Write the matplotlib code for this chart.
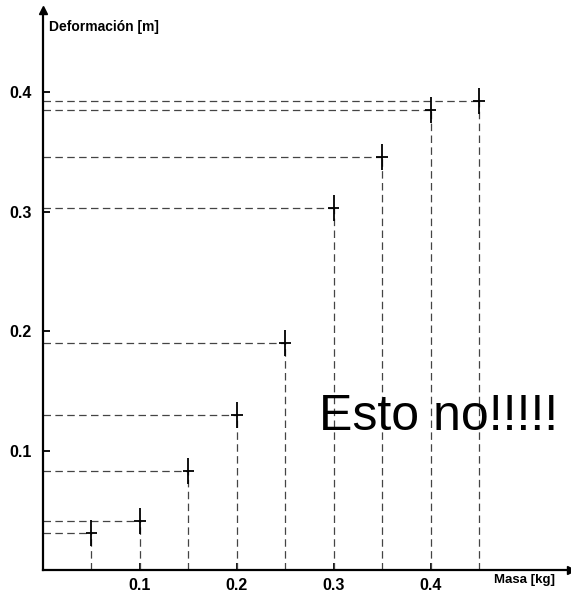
import numpy as np
import matplotlib.pyplot as plt

plt.rcParams['font.family'] = ['Liberation Sans', 'DejaVu Sans']

masa = [0.05, 0.10, 0.15, 0.20, 0.25, 0.30, 0.35, 0.40, 0.45]
deformacion = [0.031, 0.041, 0.083, 0.130, 0.190, 0.303, 0.346, 0.385, 0.393]
xticks = [0.1, 0.2, 0.3, 0.4]
yticks = [0.1, 0.2, 0.3, 0.4]

fig = plt.figure(figsize=(5.71, 5.94), dpi=100)
ax = fig.add_axes([43 / 571, 24 / 594, 528 / 571, 560 / 594])
ax.set_xlim(0, 0.545)
ax.set_ylim(0, 0.469)

# dashed guides from each point to both axes
for x, y in zip(masa, deformacion):
    ax.plot([0, x], [y, y], ls=(0, (6, 3.5)), color='#444444', lw=0.9)
    ax.plot([x, x], [0, y], ls=(0, (6, 3.5)), color='#444444', lw=0.9)

ax.errorbar(masa, deformacion, xerr=0.006, yerr=0.011, fmt='none',
            ecolor='black', elinewidth=1.3, capsize=0)

# axes with arrows
for s in ['top', 'right']:
    ax.spines[s].set_visible(False)
ax.spines['left'].set_linewidth(1.6)
ax.spines['bottom'].set_linewidth(1.6)
ax.plot(1, 0, '>k', ms=6, transform=ax.transAxes, clip_on=False)
ax.plot(0, 1, '^k', ms=6, transform=ax.transAxes, clip_on=False)

ax.set_xticks(xticks)
ax.set_yticks(yticks)
ax.set_xticklabels(['0.1', '0.2', '0.3', '0.4'], fontweight='bold', fontsize=11.5)
ax.set_yticklabels(['0.1', '0.2', '0.3', '0.4'], fontweight='bold', fontsize=11.5)
ax.tick_params(direction='in', length=5, width=1.3, pad=6)
ax.tick_params(axis='y', pad=8)

ax.text(0.006, 0.455, 'Deformación [m]', fontweight='bold', fontsize=10,
        ha='left', va='center')
ax.text(0.528, -0.003, 'Masa [kg]', fontweight='bold', fontsize=9.5,
        ha='right', va='top')
ax.text(0.285, 0.128, 'Esto no!!!!!', fontsize=36, ha='left', va='center')

fig.savefig('out.png', dpi=100)
